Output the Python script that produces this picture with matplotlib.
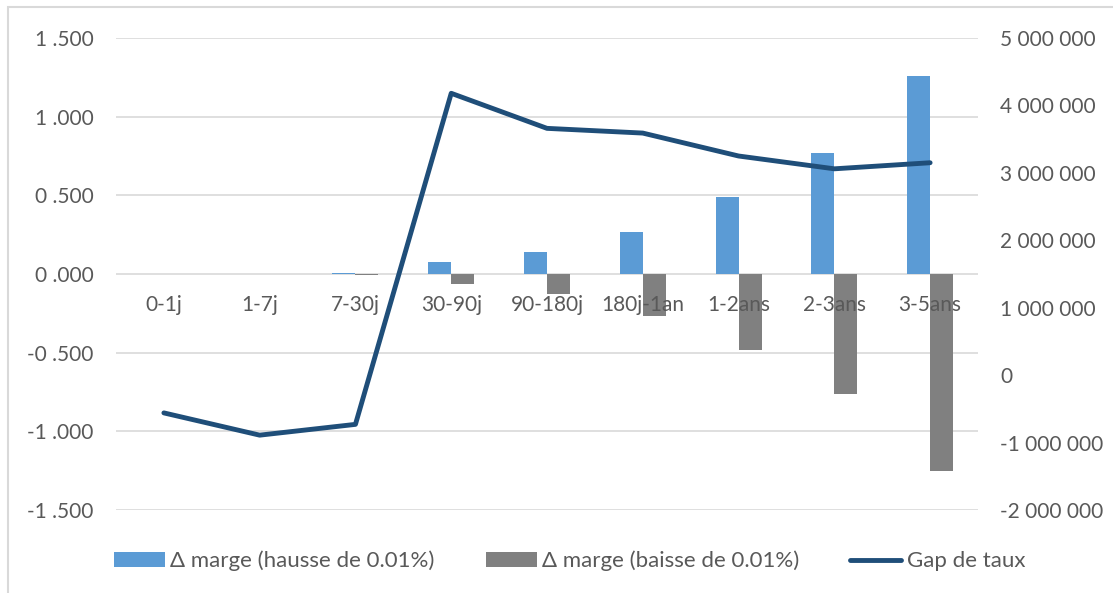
import matplotlib
matplotlib.use("Agg")
import matplotlib.pyplot as plt
import matplotlib.transforms as mtransforms
from matplotlib.patches import Rectangle
from matplotlib.ticker import FuncFormatter
import numpy as np

plt.rcParams['font.family'] = ['Lato', 'DejaVu Sans']

# data
categories = ["0-1j", "1-7j", "7-30j", "30-90j", "90-180j", "180j-1an", "1-2ans", "2-3ans", "3-5ans"]
marge_hausse = [0.0, 0.0, 0.004, 0.075, 0.14, 0.27, 0.49, 0.77, 1.26]
marge_baisse = [0.0, 0.0, -0.004, -0.065, -0.13, -0.27, -0.48, -0.76, -1.25]
gap_taux = [-560000, -890000, -730000, 4180000, 3660000, 3590000, 3250000, 3060000, 3150000]

left_ticks = [-1.5, -1.0, -0.5, 0.0, 0.5, 1.0, 1.5]
right_ticks = [-2000000, -1000000, 0, 1000000, 2000000, 3000000, 4000000, 5000000]

BLUE = "#5B9BD5"
GREY = "#808080"
NAVY = "#1F4E79"
TEXT = "#595959"
GRID = "#D9D9D9"

W, H = 1113, 593
fig = plt.figure(figsize=(W / 100, H / 100), dpi=100)
ax = fig.add_axes([116 / W, 1 - 510 / H, (978 - 116) / W, (510 - 38) / H])

x = np.arange(len(categories))
bw = 0.24
ax.bar(x - bw / 2, marge_hausse, bw, color=BLUE, label="Δ marge (hausse de 0.01%)", zorder=2)
ax.bar(x + bw / 2, marge_baisse, bw, color=GREY, label="Δ marge (baisse de 0.01%)", zorder=2)

ax.set_xlim(-0.5, len(categories) - 0.5)
ax.set_ylim(-1.5, 1.5)
ax.set_yticks(left_ticks)
ax.yaxis.set_major_formatter(FuncFormatter(lambda v, p: f"{v:.3f}".replace(".", " .")))
ax.grid(axis="y", color=GRID, lw=1.2, zorder=0)
ax.set_xticks([])
ax.tick_params(axis="y", length=0, pad=16, labelsize=15, labelcolor=TEXT)
for s in ax.spines.values():
    s.set_visible(False)

# category labels sit just below the zero line
off = mtransforms.offset_copy(ax.transData, fig=fig, x=0, y=-21, units="dots")
for i, c in enumerate(categories):
    ax.text(i, 0, c, transform=off, ha="center", va="top", fontsize=15, color=TEXT, zorder=3)

ax2 = ax.twinx()
ax2.plot(x, gap_taux, color=NAVY, lw=3.5, solid_capstyle="round", solid_joinstyle="round",
         label="Gap de taux")
ax2.set_ylim(-2000000, 5000000)
ax2.set_yticks(right_ticks)
ax2.yaxis.set_major_formatter(FuncFormatter(lambda v, p: f"{int(v):,}".replace(",", " ")))
ax2.tick_params(axis="y", length=0, pad=16, labelsize=15, labelcolor=TEXT)
for s in ax2.spines.values():
    s.set_visible(False)

h1, l1 = ax.get_legend_handles_labels()
h2, l2 = ax2.get_legend_handles_labels()
leg = fig.legend(h1 + h2, l1 + l2, loc="center", bbox_to_anchor=(569.5 / W, 1 - 561 / H),
                 ncol=3, frameon=False, fontsize=16, handlelength=2.3, handleheight=0.68,
                 handletextpad=0.23, columnspacing=2.3)
for t in leg.get_texts():
    t.set_color(TEXT)

# outer chart frame
fig.add_artist(Rectangle((8 / W, -0.1), 1.2, 1 - 7 / H + 0.1, transform=fig.transFigure,
                         fill=False, edgecolor=GRID, lw=1.5))

fig.savefig("out.png", dpi=100)
